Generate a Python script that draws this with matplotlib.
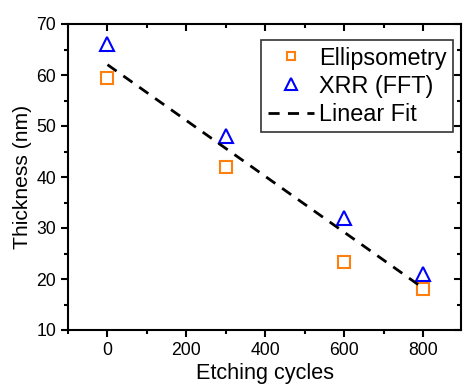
import numpy as np
import matplotlib.pyplot as plt

plt.rcParams['font.family'] = ['Liberation Sans', 'DejaVu Sans']

cycles = [0, 300, 600, 800]
ellipsometry = [59.5, 42.0, 23.3, 18.0]
xrr = [66.0, 48.0, 32.0, 21.0]

# linear fit through both data sets
all_x = np.array(cycles + cycles)
all_y = np.array(ellipsometry + xrr)
slope, intercept = np.polyfit(all_x, all_y, 1)
fit_x = np.array([cycles[0], cycles[-1]])
fit_y = slope * fit_x + intercept

fig = plt.figure(figsize=(4.63, 3.85), dpi=100)
ax = fig.add_axes([68/463, 55/385, 393/463, 306/385])

ax.plot(cycles, ellipsometry, 's', ms=8, mfc='none', mec='#FF7F0E', mew=1.5, label='Ellipsometry')
ax.plot(cycles, xrr, '^', ms=10, mfc='none', mec='#0000FF', mew=1.5, label='XRR (FFT)')
ax.plot(fit_x, fit_y, '--', color='black', lw=2, dashes=(4, 3), label='Linear Fit')

ax.set_xlim(-100, 895)
ax.set_ylim(10, 70)
ax.set_xticks([0, 200, 400, 600, 800])
ax.set_xticks(np.arange(-100, 900, 100), minor=True)
ax.set_yticks(np.arange(10, 71, 10))
ax.set_yticks(np.arange(10, 71, 5), minor=True)

for s in ax.spines.values():
    s.set_linewidth(1.5)

ax.tick_params(which='major', direction='out', length=5, width=1.5, labelsize=12.7)
ax.tick_params(which='minor', direction='out', length=3, width=1.5)

top = ax.secondary_xaxis('top')
top.set_xticks([0, 200, 400, 600, 800])
top.set_xticks(np.arange(-100, 900, 100), minor=True)
top.tick_params(which='major', direction='in', length=5, width=1.5, labeltop=False)
top.tick_params(which='minor', direction='in', length=3, width=1.5)
top.spines['top'].set_visible(False)

right = ax.secondary_yaxis('right')
right.set_yticks(np.arange(10, 71, 10))
right.set_yticks(np.arange(10, 71, 5), minor=True)
right.tick_params(which='major', direction='in', length=5, width=1.5, labelright=False)
right.tick_params(which='minor', direction='in', length=3, width=1.5)
right.spines['right'].set_visible(False)

ax.set_xlabel('Etching cycles', fontsize=15.6, labelpad=3)
ax.set_ylabel('Thickness (nm)', fontsize=15.2, labelpad=3)

leg = ax.legend(loc='upper right', bbox_to_anchor=((453 - 68) / 393, (330 - 40) / 306),
                borderaxespad=0, fontsize=16.8, frameon=True, fancybox=False,
                edgecolor='black', markerscale=0.8, handlelength=2.0, handletextpad=0.2,
                borderpad=0.28, labelspacing=0.22)
leg.get_frame().set_linewidth(1.2)

fig.savefig('out.png', dpi=100)
